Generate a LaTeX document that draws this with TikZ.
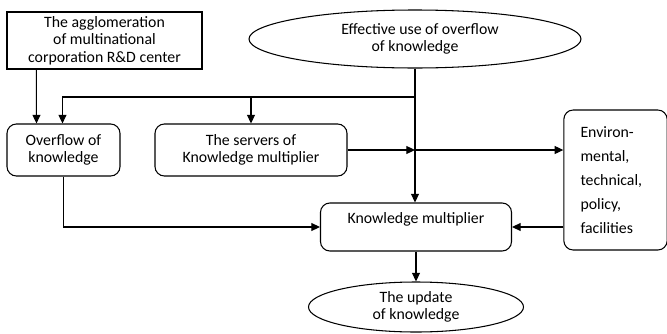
\documentclass[tikz,border=0pt]{standalone}
\usepackage{fontspec}
\setmainfont{Carlito}
\usetikzlibrary{arrows.meta,shapes.geometric}
\begin{document}
\begin{tikzpicture}[x=0.03cm, y=-0.03cm, line width=0.9pt, >={Triangle[length=2.6mm,width=2.4mm]},
    font=\fontsize{13.5}{15}\selectfont,
    box/.style = {draw, align=center, inner sep=0pt},
    rbox/.style = {box, rounded corners=8pt},
    oval/.style = {draw, ellipse, align=center, inner sep=0pt}]
    \useasboundingbox (0,0) rectangle (667,333);
    % top row
    \node[box, minimum width=5.85cm, minimum height=1.71cm] (agg) at (104.5,40.5)
        {The agglomeration\\of multinational\\corporation R\&D center};
    \node[oval, minimum width=9.96cm, minimum height=1.74cm] (eff) at (415,39)
        {\hspace*{0.3cm}Effective use of overflow\\of knowledge};
    % middle row
    \node[rbox, minimum width=3.39cm, minimum height=1.56cm] (ovf) at (63.5,150)
        {Overflow of\\knowledge};
    \node[rbox, minimum width=5.76cm, minimum height=1.56cm] (srv) at (251,150)
        {The servers of\\Knowledge multiplier};
    \node[rbox, minimum width=3.03cm, minimum height=4.2cm, align=left, text width=2.1cm,
        inner xsep=0.5cm, font=\fontsize{13.5}{20.5}\selectfont] (env) at (615.5,180)
        {Environ-\\mental,\\technical,\\policy,\\facilities};
    \node[rbox, minimum width=5.73cm, text height=0.6cm, text depth=0.84cm] (km) at (416,227)
        {Knowledge multiplier};
    \node[oval, minimum width=6.45cm, minimum height=1.5cm] (upd) at (416,307)
        {The update\\of knowledge};
    \coordinate (j1) at (415,97);
    % connectors
    \draw[->] ([xshift=0.9cm]agg.south west) -- ([xshift=0.9cm]ovf.north west);
    \draw[->] (eff.south) -- (eff.south |- km.north);
    \draw[->] (j1) -| ([xshift=1.68cm]ovf.north west);
    \draw[->] (srv.north |- j1) -- (srv.north);
    \draw[->] (srv.east) -- (srv.east -| eff.south);
    \draw[->] (srv.east -| eff.south) -- (srv.east -| env.west);
    \draw[->] (ovf.south) |- (km.west);
    \draw[->] (km.east -| env.west) -- (km.east);
    \draw[->] (km.south) -- (upd.north);
\end{tikzpicture}
\end{document}
